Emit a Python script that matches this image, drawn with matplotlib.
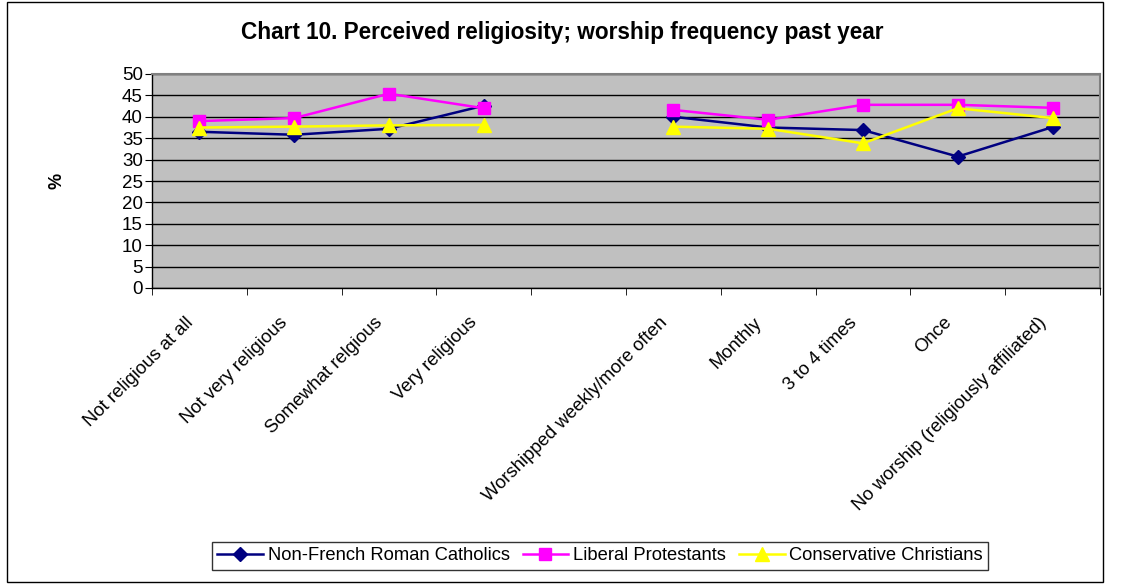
import numpy as np
import matplotlib
matplotlib.use("Agg")
import matplotlib.pyplot as plt
from matplotlib.patches import Rectangle
from matplotlib.transforms import ScaledTranslation

plt.rcParams['font.family'] = ['Liberation Sans', 'DejaVu Sans']

categories = ["Not religious at all", "Not very religious", "Somewhat relgious",
              "Very religious", "", "Worshipped weekly/more often", "Monthly",
              "3 to 4 times", "Once", "No worship (religiously affiliated)"]
catholics = [36.5, 35.8, 37.2, 42.6, np.nan, 40.0, 37.5, 36.9, 30.7, 37.6]
liberal = [39.0, 39.7, 45.4, 42.0, np.nan, 41.6, 39.3, 42.8, 42.8, 42.1]
conservative = [37.5, 37.7, 38.0, 38.1, np.nan, 37.7, 37.2, 33.8, 42.0, 39.7]
yticks = [0, 5, 10, 15, 20, 25, 30, 35, 40, 45, 50]

W, H = 1137, 585
fig = plt.figure(figsize=(W / 100, H / 100), dpi=100)
fig.patch.set_facecolor('white')

# outer frame
fig.patches.append(Rectangle((7 / W, 1 - 582 / H), (1103 - 7) / W, (582 - 2) / H,
                             transform=fig.transFigure, fill=False,
                             edgecolor='black', linewidth=1.0))

ax = fig.add_axes([152 / W, 1 - 288 / H, (1100 - 152) / W, (288 - 74) / H])
ax.set_facecolor('#C0C0C0')

x = np.arange(len(categories))
ax.plot(x, catholics, color='#000080', marker='D', markersize=7, linewidth=1.8,
        label='Non-French Roman Catholics', zorder=3)
ax.plot(x, liberal, color='#FF00FF', marker='s', markersize=9, linewidth=1.8,
        label='Liberal Protestants', zorder=3)
ax.plot(x, conservative, color='#FFFF00', marker='^', markersize=10, linewidth=1.8,
        label='Conservative Christians', zorder=3)

ax.set_xlim(-0.5, len(categories) - 0.5)
ax.set_ylim(0, 50)
ax.set_yticks(yticks)
ax.set_yticklabels([str(v) for v in yticks], fontsize=13.5)
ax.yaxis.grid(True, color='black', linewidth=1.0)
ax.set_axisbelow(True)

ax.set_xticks(x)
ax.set_xticklabels(categories, rotation=45, ha='right', va='center',
                   rotation_mode='anchor', fontsize=13.3)
ax.tick_params(axis='x', which='major', length=0, pad=23)
shift = ScaledTranslation(-9 / 100, 0, fig.dpi_scale_trans)
for lbl in ax.get_xticklabels():
    lbl.set_transform(lbl.get_transform() + shift)
ax.set_xticks(np.arange(-0.5, len(categories), 1.0), minor=True)
ax.tick_params(axis='x', which='minor', length=5, direction='out', color='black')
ax.tick_params(axis='y', length=5, direction='out', pad=1.5)

for side in ['top', 'right']:
    ax.spines[side].set_color('#808080')
    ax.spines[side].set_linewidth(1.5)
for side in ['left', 'bottom']:
    ax.spines[side].set_color('black')
    ax.spines[side].set_linewidth(1.0)

ax.set_ylabel('%', fontsize=13, fontweight='bold', labelpad=41)

fig.text(562 / W, 1 - 33 / H, 'Chart 10. Perceived religiosity; worship frequency past year',
         ha='center', va='center', fontsize=16.3, fontweight='bold')

leg = fig.legend(loc='center', bbox_to_anchor=(600 / W, 1 - 556 / H), ncol=3,
                 frameon=True, fancybox=False, edgecolor='black', fontsize=13.2,
                 handlelength=2.5, handletextpad=0.25, columnspacing=0.7,
                 borderpad=0.3)
leg.get_frame().set_linewidth(1.0)

fig.savefig('out.png', dpi=100, facecolor='white')
